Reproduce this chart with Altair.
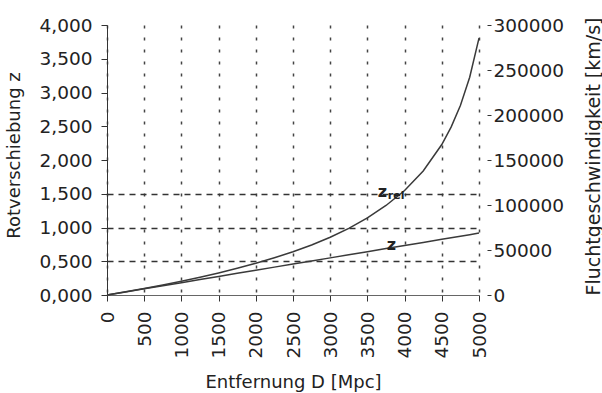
import altair as alt
import pandas as pd

# Distance D in Mpc
distance = [0, 250, 500, 750, 1000, 1250, 1500, 1750, 2000, 2250, 2500,
            2750, 3000, 3250, 3500, 3750, 4000, 4250, 4500, 4625, 4750, 4875, 5000]
# classical redshift z
z_classic = [0.0, 0.046, 0.092, 0.138, 0.183, 0.229, 0.275, 0.321, 0.367, 0.413, 0.458,
             0.504, 0.550, 0.596, 0.642, 0.688, 0.733, 0.779, 0.825, 0.848, 0.871, 0.894, 0.917]
# relativistic redshift z_rel
z_relativ = [0.0, 0.047, 0.097, 0.149, 0.203, 0.263, 0.326, 0.395, 0.470, 0.552, 0.640,
             0.741, 0.856, 0.988, 1.142, 1.326, 1.548, 1.837, 2.229, 2.487, 2.808, 3.227, 3.806]

x_ticks = [0, 500, 1000, 1500, 2000, 2500, 3000, 3500, 4000, 4500, 5000]
z_ticks = [0.0, 0.5, 1.0, 1.5, 2.0, 2.5, 3.0, 3.5, 4.0]
v_ticks = [0, 50000, 100000, 150000, 200000, 250000, 300000]

# curve annotations
label_main = ["z", "z"]
label_main_d = [3640, 3760]
label_main_z = [1.53, 0.74]
label_sub = ["rel"]
label_sub_d = [3640]
label_sub_z = [1.53]

FONT = "DejaVu Sans"
INK = "#222222"

curves = pd.DataFrame({"D": distance, "z": z_classic, "z_rel": z_relativ}).melt(
    "D", var_name="series", value_name="value")

x_axis = alt.Axis(values=x_ticks, format="d", labelAngle=-90, labelOverlap=False,
                  labelFlush=False,
                  title="Entfernung D [Mpc]", titleY=87, titleBaseline="middle",
                  grid=True, gridColor="#444444", gridDash=[3, 9], gridWidth=1.5,
                  tickSize=6, tickColor="#333333", domainColor="#666666",
                  labelPadding=10)

y_axis = alt.Axis(values=z_ticks, labelOverlap=False,
                  labelExpr="replace(format(datum.value, '.3f'), '.', ',')",
                  title="Rotverschiebung z", titleX=-93, titleY=130,
                  titleBaseline="middle", titleAngle=270,
                  grid=True,
                  gridColor={"condition": {"test": "datum.value > 0 && datum.value <= 1.5",
                                           "value": "#333333"},
                             "value": "transparent"},
                  gridDash=[6, 5], gridWidth=1.3,
                  tickSize=6, tickColor="#333333", domainColor="#333333",
                  labelPadding=9)

x_enc = alt.X("D:Q", scale=alt.Scale(domain=[0, 5000], nice=False), axis=x_axis)

lines = alt.Chart(curves).mark_line(strokeWidth=1.5).encode(
    x=x_enc,
    y=alt.Y("value:Q", scale=alt.Scale(domain=[0, 4], nice=False), axis=y_axis),
    color=alt.Color("series:N", scale=alt.Scale(domain=["z", "z_rel"],
                                                range=["#3a3a3a", "#3a3a3a"]),
                    legend=None),
    detail="series:N",
)

main_df = pd.DataFrame({"t": label_main, "D": label_main_d, "z": label_main_z})
sub_df = pd.DataFrame({"t": label_sub, "D": label_sub_d, "z": label_sub_z})

text_main = alt.Chart(main_df).mark_text(font=FONT, fontSize=16, fontWeight="bold",
                                         color=INK, align="left", baseline="middle").encode(
    x=alt.X("D:Q", scale=alt.Scale(domain=[0, 5000], nice=False), axis=x_axis),
    y=alt.Y("z:Q", scale=alt.Scale(domain=[0, 4], nice=False), axis=y_axis),
    text="t:N",
)
text_sub = alt.Chart(sub_df).mark_text(font=FONT, fontSize=11, fontWeight="bold",
                                       color=INK, align="left", baseline="middle",
                                       dx=10, dy=4).encode(
    x=alt.X("D:Q", scale=alt.Scale(domain=[0, 5000], nice=False), axis=x_axis),
    y=alt.Y("z:Q", scale=alt.Scale(domain=[0, 4], nice=False), axis=y_axis),
    text="t:N",
)

left = alt.layer(lines, text_main, text_sub)

right = alt.Chart(pd.DataFrame({"v": v_ticks})).mark_point(opacity=0).encode(
    y=alt.Y("v:Q", scale=alt.Scale(domain=[0, 300000], nice=False),
            axis=alt.Axis(orient="right", values=v_ticks, format="d", labelOverlap=False,
                          title="Fluchtgeschwindigkeit [km/s]", titleAngle=270,
                          titleX=106, titleY=131, titleBaseline="middle",
                          titleFontSize=19,
                          domain=False, ticks=True, tickSize=4, tickColor="#333333",
                          offset=8, labelPadding=2, grid=False))
)

chart = alt.layer(left, right).resolve_scale(y="independent").properties(
    width=372, height=270,
    autosize=alt.AutoSizeParams(type="none"),
    padding={"left": 107, "top": 25, "right": 123, "bottom": 98},
).configure_view(stroke=None).configure_axis(
    labelFont=FONT, titleFont=FONT, labelFontSize=18.5, titleFontSize=18,
    labelColor=INK, titleColor=INK, titleFontWeight="normal",
)

chart.save("out.html", embed_options={"renderer": "svg", "actions": False})
